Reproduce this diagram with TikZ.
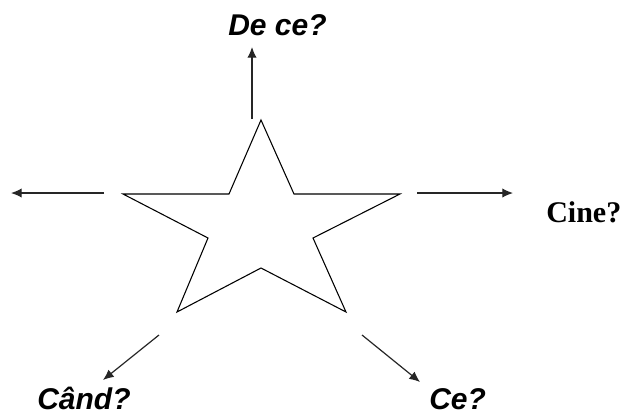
\documentclass[tikz,border=0pt]{standalone}
\usepackage{fontspec}
\setmainfont{Liberation Serif}
\setsansfont{Liberation Sans}
\usetikzlibrary{arrows.meta}
\tikzset{
  px/.style={x=0.75pt,y=-0.75pt},
  starline/.style={draw=black,line width=0.8pt,line join=miter},
  arr/.style={draw=black!85,line width=0.9pt,-{Latex[length=8pt,width=7pt]}},
  qsans/.style={font=\sffamily\bfseries\itshape\fontsize{22.5}{26}\selectfont,inner sep=0pt,anchor=base west},
  qserif/.style={font=\rmfamily\bfseries\fontsize{22.5}{26}\selectfont,inner sep=0pt,anchor=base west}
}
\begin{document}
\begin{tikzpicture}[px]
\useasboundingbox (0,0) rectangle (626,415);
% star
\coordinate (s1) at (261,120);
\coordinate (s2) at (294,194);
\coordinate (s3) at (400,194);
\coordinate (s4) at (313,238);
\coordinate (s5) at (346,312);
\coordinate (s6) at (261,268);
\coordinate (s7) at (177,312);
\coordinate (s8) at (208,238);
\coordinate (s9) at (123,194);
\coordinate (s10) at (229,194);
\draw[starline] (s1)--(s2)--(s3)--(s4)--(s5)--(s6)--(s7)--(s8)--(s9)--(s10)--cycle;
% arrow endpoints
\coordinate (tA) at (252,119); \coordinate (tB) at (252,47);
\coordinate (lA) at (104,193); \coordinate (lB) at (11,193);
\coordinate (rA) at (417,193); \coordinate (rB) at (513,193);
\coordinate (blA) at (159,335); \coordinate (blB) at (103,380);
\coordinate (brA) at (362,335); \coordinate (brB) at (420,382);
\draw[arr] (tA) -- (tB);
\draw[arr] (lA) -- (lB);
\draw[arr] (rA) -- (rB);
\draw[arr] (blA) -- (blB);
\draw[arr] (brA) -- (brB);
% labels
\node[qsans] (dece) at (228,35) {De ce?};
\node[qserif] (cine) at (546,222) {Cine?};
\node[qsans] (cand) at (37,409) {Când?};
\node[qsans] (ce) at (429,409) {Ce?};
\end{tikzpicture}
\end{document}
